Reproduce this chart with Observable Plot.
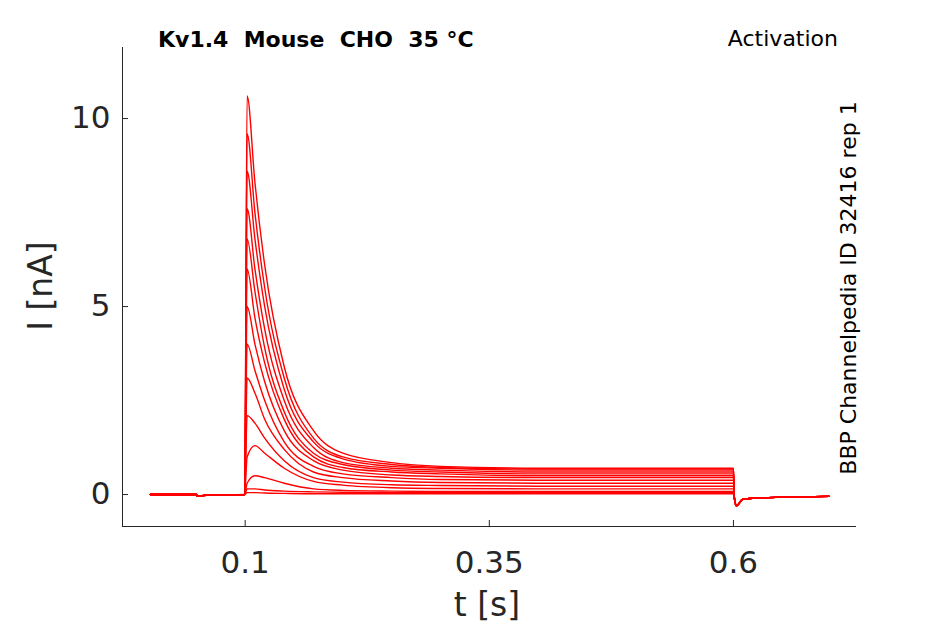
<!DOCTYPE html>
<html><head><meta charset="utf-8">
<script src="https://cdn.jsdelivr.net/npm/d3@7"></script>
<script src="https://cdn.jsdelivr.net/npm/@observablehq/plot@0.6"></script>
<style>body{margin:0;background:#fff}svg{font-family:"DejaVu Sans",sans-serif}</style>
</head><body><div id="c"></div>
<script>
const preT = [0.003, 0.05, 0.051, 0.06, 0.0995];
const preV = [0, 0, -0.04, -0.02, 0];
const mainT = [0.102, 0.11, 0.12, 0.14, 0.17, 0.2, 0.25, 0.3, 0.4, 0.5, 0.6];
const postT = [0.601, 0.603, 0.61, 0.65, 0.698];
const postV = [-0.1, -0.3, -0.12, -0.07, -0.05];
const sweeps = [
 [10.6,8.3,6.1,3.4,1.7,1.1,0.85,0.75,0.7,0.7,0.7],
 [9.6,7.5,5.5,3.1,1.5,1.0,0.8,0.72,0.68,0.68,0.68],
 [8.6,6.8,5.0,2.8,1.4,0.95,0.75,0.7,0.65,0.65,0.65],
 [7.6,6.0,4.4,2.5,1.25,0.85,0.7,0.65,0.6,0.6,0.6],
 [6.8,5.4,3.9,2.2,1.1,0.8,0.65,0.6,0.55,0.55,0.55],
 [6.0,4.7,3.5,2.0,1.0,0.72,0.6,0.55,0.5,0.5,0.5],
 [5.0,4.0,3.0,1.7,0.9,0.65,0.52,0.48,0.45,0.45,0.45],
 [4.0,3.3,2.5,1.4,0.75,0.55,0.45,0.4,0.38,0.38,0.38],
 [3.1,2.7,2.0,1.2,0.6,0.45,0.36,0.32,0.3,0.3,0.3],
 [2.1,1.9,1.5,0.9,0.45,0.33,0.26,0.24,0.22,0.22,0.22],
 [1.0,1.3,1.1,0.7,0.35,0.25,0.18,0.16,0.15,0.15,0.15],
 [0.3,0.5,0.45,0.3,0.15,0.11,0.09,0.08,0.08,0.08,0.08],
 [0.15,0.15,0.12,0.09,0.07,0.06,0.05,0.05,0.05,0.05,0.05],
 [0.05,0.05,0.04,0.03,0.02,0.02,0.02,0.02,0.02,0.02,0.02]
];
const xTicks = [0.1, 0.35, 0.6];
const yTicks = [0, 5, 10];

const rows = [];
sweeps.forEach((s, k) => {
  preT.forEach((t, i) => rows.push({k, t, v: preV[i]}));
  mainT.forEach((t, i) => rows.push({k, t, v: s[i]}));
  postT.forEach((t, i) => rows.push({k, t, v: postV[i]}));
});

const W = 945, H = 624;
const chart = Plot.plot({
  width: W, height: H,
  marginLeft: 122, marginRight: 89, marginTop: 47, marginBottom: 98,
  x: {domain: [-0.0256, 0.726]},
  y: {domain: [-0.85, 11.89]},
  style: {fontFamily: "DejaVu Sans, sans-serif", color: "#262626"},
  marks: [
    Plot.line(rows, {x: "t", y: "v", z: "k", stroke: "#ff0000", strokeWidth: 1.4, curve: "monotone-x"}),
    Plot.axisX({ticks: xTicks, tickFormat: d => String(d), tickSize: -6, fontSize: 31, tickPadding: 30, label: null, stroke: "#262626"}),
    Plot.axisY({ticks: yTicks, tickFormat: d => String(d), tickSize: -6, fontSize: 31, tickPadding: 18, label: null, stroke: "#262626"}),
    Plot.ruleY([-0.85], {stroke: "#262626"}),
    Plot.ruleX([-0.0256], {stroke: "#262626"})
  ]
});
document.getElementById("c").appendChild(chart);
const svg = d3.select(chart);
svg.append("text").attr("x", 487).attr("y", 616).attr("text-anchor", "middle").attr("font-size", 33).attr("fill", "#262626").text("t [s]");
svg.append("text").attr("transform", "translate(52,286) rotate(-90)").attr("text-anchor", "middle").attr("font-size", 33).attr("fill", "#262626").text("I [nA]");
svg.append("text").attr("x", 158).attr("y", 47).attr("text-anchor", "start").attr("font-size", 22).attr("font-weight", "bold").attr("fill", "#000").text("Kv1.4  Mouse  CHO  35 °C");
svg.append("text").attr("x", 838).attr("y", 46).attr("text-anchor", "end").attr("font-size", 22).attr("fill", "#000").text("Activation");
svg.append("text").attr("transform", "translate(856,288) rotate(-90)").attr("text-anchor", "middle").attr("font-size", 22).attr("fill", "#000").text("BBP Channelpedia ID 32416 rep 1");
</script></body></html>
